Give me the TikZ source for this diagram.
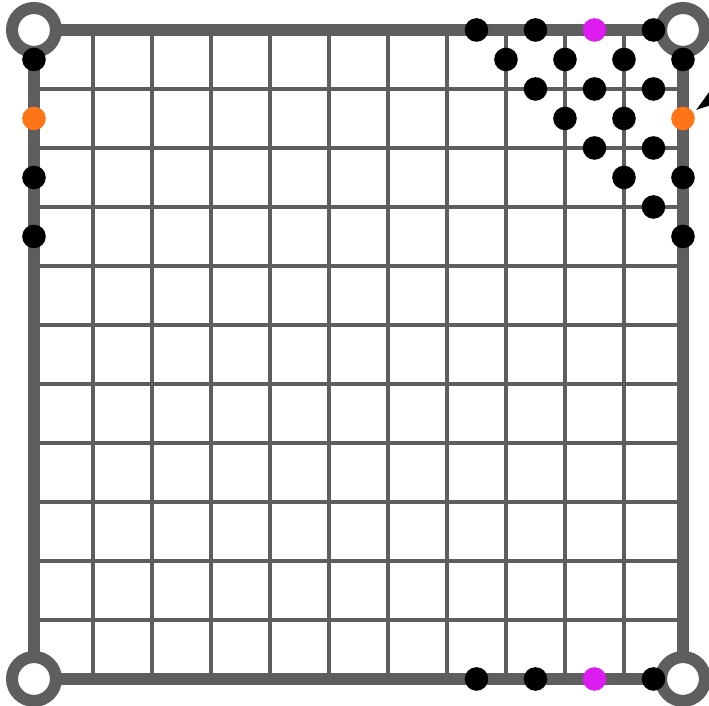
\documentclass[tikz,border=0pt]{standalone}
\usepackage{tikz}
\usetikzlibrary{arrows.meta,positioning,calc}

\definecolor{framegray}{HTML}{5E5E5E}
\definecolor{vertmag}{HTML}{DD1CF0}
\definecolor{vertorange}{HTML}{FF7518}

\begin{document}
\begin{tikzpicture}[scale=1.0, >=Stealth,
    dot/.style={circle, fill=black, inner sep=0pt, minimum size=0.4cm},
    corner/.style={circle, draw=framegray, fill=white, line width=5.8pt, inner sep=0pt, minimum size=0.745cm}]
        \useasboundingbox (-0.576,-0.458) rectangle (11.441,11.508);
        \clip (-0.576,-0.458) rectangle (11.441,11.508);
        % mesh and outer frame
        \draw[framegray, line width=1.8pt] (0,0) grid (11,11);
        \draw[framegray, line width=5.6pt] (0,0) rectangle (11,11);
        \node[corner] (c-sw) at (0,0) {};
        \node[corner] (c-se) at (11,0) {};
        \node[corner] (c-nw) at (0,11) {};
        \node[corner] (c-ne) at (11,11) {};
        % refined corner
        \foreach \i/\j in {15/0,17/0,21/0, 16/1,18/1,20/1,22/1, 17/2,19/2,21/2,
                           18/3,20/3, 19/4,21/4, 20/5,22/5, 21/6, 22/7}
          \node[dot] (d\i-\j) at (\i/2, 11-\j/2) {};
        \node[dot, fill=vertmag] (topmag) at (9.5,11) {};
        \node[dot, fill=vertorange] (rightor) at (11,9.5) {};
        % left edge
        \foreach \j in {1,5,7}
          \node[dot] (l\j) at (0, 11-\j/2) {};
        \node[dot, fill=vertorange] (leftor) at (0,9.5) {};
        % bottom edge
        \foreach \i in {15,17,21}
          \node[dot] (b\i) at (\i/2, 0) {};
        \node[dot, fill=vertmag] (botmag) at (9.5,0) {};
        % pointer
        \coordinate (tip) at ($(rightor)+(33:0.263)$);
        \coordinate (pointer) at ($(tip)+(36:1.6)$);
        \draw[-{Triangle[length=0.8cm,width=0.5cm]}, line width=2pt] (pointer) -- (tip);
      \end{tikzpicture}
\end{document}
